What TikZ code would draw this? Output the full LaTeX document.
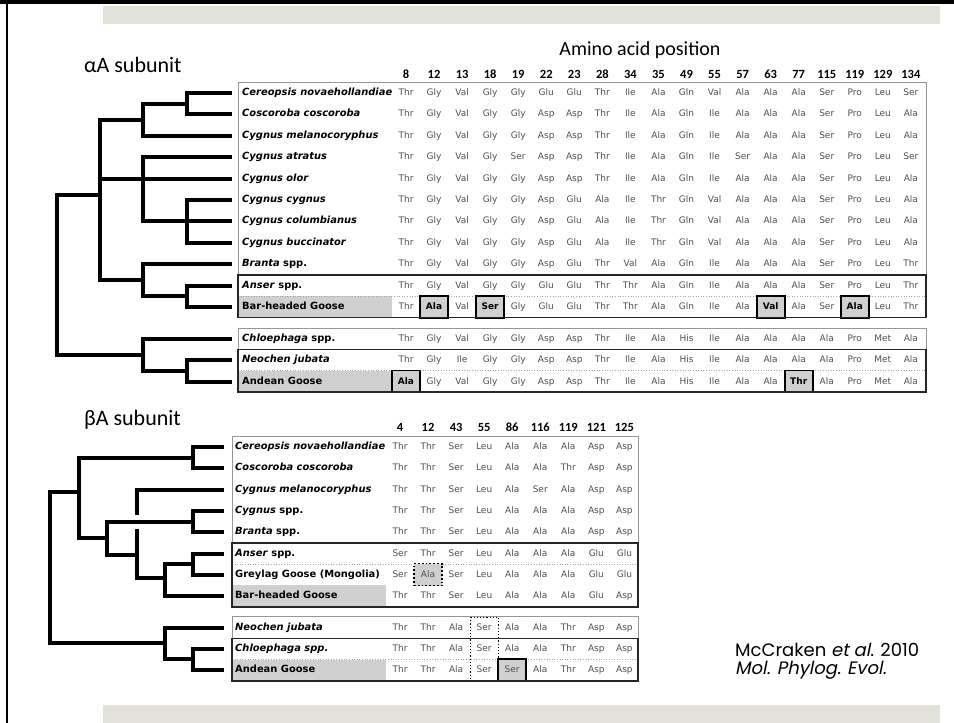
\documentclass[tikz,border=0pt]{standalone}
\usepackage{fontspec}
\usepackage{tikz}
\usetikzlibrary{positioning}

\newfontfamily\seqfont{DejaVu Sans}
\newfontfamily\titlefont{Carlito}
\newfontfamily\citefont{Poppins}[ItalicFont=Poppins,ItalicFeatures={FakeSlant=0.2}]

\definecolor{bandgray}{RGB}{226,226,219}
\definecolor{cellgray}{RGB}{208,208,208}
\definecolor{residue}{RGB}{80,80,80}
\definecolor{frame}{RGB}{150,150,150}

% one row of residues, columns 28.05 apart
\newcommand{\acidrow}[4]{%
  \foreach \a [count=\k from 0] in {#4}
    {\node[aa] (#1\k) at (#2+28.05*\k,#3) {\a};}}

\tikzset{
  branch/.style={line width=4pt,line cap=rect,line join=miter},
  aa/.style={font=\seqfont\fontsize{9}{10}\selectfont,text=residue,inner sep=0pt,text height=7pt,text depth=2pt},
  taxon/.style={font=\seqfont\bfseries\fontsize{9.9}{11}\selectfont,anchor=west,inner sep=0pt,text height=7pt,text depth=2pt},
  site/.style={font=\titlefont\bfseries\fontsize{12.5}{14}\selectfont,anchor=base,inner sep=0pt},
  subunit/.style={font=\titlefont\fontsize{22}{26}\selectfont,anchor=base west,inner sep=0pt},
  hit/.style={draw=black,line width=1.8pt,fill=cellgray,minimum width=28pt,minimum height=22pt,inner sep=0pt,text height=7pt,text depth=2pt,font=\seqfont\bfseries\fontsize{9}{10}\selectfont},
  softhit/.style={hit,font=\seqfont\fontsize{9}{10}\selectfont,text=residue},
  outer/.style={draw=frame,line width=1pt},
  inner/.style={draw=black!85,line width=1.4pt},
  rowsep/.style={draw=black!35,dotted,line width=0.6pt},
  cite/.style={font=\citefont\fontsize{18}{20}\selectfont,anchor=base west,inner sep=0pt}
}

\begin{document}
\begin{tikzpicture}[x=1pt,y=-1pt]
	\useasboundingbox (0,0) rectangle (954,723);

	% page frame and bands
	\fill[bandgray] (103,6) rectangle (940,24);
	\fill[bandgray] (103,705) rectangle (940,723);
	\draw[line width=4pt] (0,2) -- (954,2);
	\draw[line width=2pt] (7,0) -- (7,723);

	% alpha A headers
	\node[subunit] (atitle) at (84,72) {αA subunit};
	\node[font=\titlefont\fontsize{20}{24}\selectfont,anchor=base] (apos) at (640,55) {Amino acid position};
	\foreach \p [count=\k from 0] in {8,12,13,18,19,22,23,28,34,35,49,55,57,63,77,115,119,129,134}
		\node[site] (asite\k) at (406+28.05*\k,78) {\p};

	% alpha A shading and row rules
	\fill[cellgray] (238,296.3) rectangle (392,317.7);
	\fill[cellgray] (238,370.6) rectangle (392,392);
	\draw[rowsep] (238,296.3) -- (926,296.3);
	\draw[rowsep] (238,370.6) -- (926,370.6);

	% alpha A rows
	\node[taxon] (tcer) at (242,93) {\itshape Cereopsis novaehollandiae};
	\acidrow{acer}{406}{93}{Thr,Gly,Val,Gly,Gly,Glu,Glu,Thr,Ile,Ala,Gln,Val,Ala,Ala,Ala,Ser,Pro,Leu,Ser}
	\node[taxon] (tcos) at (242,114.4) {\itshape Coscoroba coscoroba};
	\acidrow{acos}{406}{114.4}{Thr,Gly,Val,Gly,Gly,Asp,Asp,Thr,Ile,Ala,Gln,Ile,Ala,Ala,Ala,Ser,Pro,Leu,Ala}
	\node[taxon] (tmel) at (242,135.8) {\itshape Cygnus melanocoryphus};
	\acidrow{amel}{406}{135.8}{Thr,Gly,Val,Gly,Gly,Asp,Asp,Thr,Ile,Ala,Gln,Ile,Ala,Ala,Ala,Ser,Pro,Leu,Ala}
	\node[taxon] (tatr) at (242,157.2) {\itshape Cygnus atratus};
	\acidrow{aatr}{406}{157.2}{Thr,Gly,Val,Gly,Ser,Asp,Asp,Thr,Ile,Ala,Gln,Ile,Ser,Ala,Ala,Ser,Pro,Leu,Ser}
	\node[taxon] (tolo) at (242,178.6) {\itshape Cygnus olor};
	\acidrow{aolo}{406}{178.6}{Thr,Gly,Val,Gly,Gly,Asp,Asp,Thr,Ile,Ala,Gln,Ile,Ala,Ala,Ala,Ser,Pro,Leu,Ala}
	\node[taxon] (tcyg) at (242,200) {\itshape Cygnus cygnus};
	\acidrow{acyg}{406}{200}{Thr,Gly,Val,Gly,Gly,Asp,Glu,Ala,Ile,Thr,Gln,Val,Ala,Ala,Ala,Ser,Pro,Leu,Ala}
	\node[taxon] (tcol) at (242,221.4) {\itshape Cygnus columbianus};
	\acidrow{acol}{406}{221.4}{Thr,Gly,Val,Gly,Gly,Asp,Glu,Ala,Ile,Thr,Gln,Val,Ala,Ala,Ala,Ser,Pro,Leu,Ala}
	\node[taxon] (tbuc) at (242,242.8) {\itshape Cygnus buccinator};
	\acidrow{abuc}{406}{242.8}{Thr,Gly,Val,Gly,Gly,Asp,Glu,Ala,Ile,Thr,Gln,Val,Ala,Ala,Ala,Ser,Pro,Leu,Ala}
	\node[taxon] (tbra) at (242,264.2) {\textit{Branta} spp.};
	\acidrow{abra}{406}{264.2}{Thr,Gly,Val,Gly,Gly,Asp,Glu,Thr,Val,Ala,Gln,Ile,Ala,Ala,Ala,Ser,Pro,Leu,Thr}
	\node[taxon] (tans) at (242,285.6) {\textit{Anser} spp.};
	\acidrow{aans}{406}{285.6}{Thr,Gly,Val,Gly,Gly,Glu,Glu,Thr,Thr,Ala,Gln,Ile,Ala,Ala,Ala,Ser,Pro,Leu,Thr}
	\node[taxon] (tbar) at (242,307) {Bar-headed Goose};
	\acidrow{abar}{406}{307}{Thr,Ala,Val,Ser,Gly,Glu,Glu,Thr,Thr,Ala,Gln,Ile,Ala,Val,Ala,Ser,Ala,Leu,Thr}
	\node[taxon] (tchl) at (242,339) {\textit{Chloephaga} spp.};
	\acidrow{achl}{406}{339}{Thr,Gly,Val,Gly,Gly,Asp,Asp,Thr,Ile,Ala,His,Ile,Ala,Ala,Ala,Ala,Pro,Met,Ala}
	\node[taxon] (tneo) at (242,360.3) {\itshape Neochen jubata};
	\acidrow{aneo}{406}{360.3}{Thr,Gly,Ile,Gly,Gly,Asp,Asp,Thr,Ile,Ala,His,Ile,Ala,Ala,Ala,Ala,Pro,Met,Ala}
	\node[taxon] (tand) at (242,381.5) {Andean Goose};
	\acidrow{aand}{406}{381.5}{Ala,Gly,Val,Gly,Gly,Asp,Asp,Thr,Ile,Ala,His,Ile,Ala,Ala,Thr,Ala,Pro,Met,Ala}

	% alpha A substitutions
	\node[hit] (hbar1) at (abar1) {Ala};
	\node[hit] (hbar3) at (abar3) {Ser};
	\node[hit] (hbar13) at (abar13) {Val};
	\node[hit] (hbar16) at (abar16) {Ala};
	\node[hit] (hand0) at (aand0) {Ala};
	\node[hit] (hand14) at (aand14) {Thr};

	% alpha A boxes
	\draw[outer] (238,82.5) rectangle (926,317.7);
	\draw[inner] (238,274.9) rectangle (926,317.7);
	\draw[outer] (238,328.3) rectangle (926,392);
	\draw[inner] (238,349.6) rectangle (926,392);

	% beta A headers
	\node[subunit] (btitle) at (84,425) {βA subunit};
	\foreach \p [count=\k from 0] in {4,12,43,55,86,116,119,121,125}
		\node[site] (bsite\k) at (400+28.05*\k,431) {\p};

	% beta A shading and row rules
	\fill[cellgray] (232,585.4) rectangle (386,606.8);
	\fill[cellgray] (232,659.5) rectangle (386,680.8);
	\draw[rowsep] (232,564.2) -- (638,564.2);
	\draw[rowsep] (232,659.5) -- (638,659.5);

	% beta A rows
	\node[taxon] (ucer) at (235,447) {\itshape Cereopsis novaehollandiae};
	\acidrow{bcer}{400}{447}{Thr,Thr,Ser,Leu,Ala,Ala,Ala,Asp,Asp}
	\node[taxon] (ucos) at (235,468.3) {\itshape Coscoroba coscoroba};
	\acidrow{bcos}{400}{468.3}{Thr,Thr,Ser,Leu,Ala,Ala,Thr,Asp,Asp}
	\node[taxon] (umel) at (235,489.6) {\itshape Cygnus melanocoryphus};
	\acidrow{bmel}{400}{489.6}{Thr,Thr,Ser,Leu,Ala,Ser,Ala,Asp,Asp}
	\node[taxon] (uspp) at (235,510.9) {\textit{Cygnus} spp.};
	\acidrow{bspp}{400}{510.9}{Thr,Thr,Ser,Leu,Ala,Ala,Ala,Asp,Asp}
	\node[taxon] (ubra) at (235,532.2) {\textit{Branta} spp.};
	\acidrow{bbra}{400}{532.2}{Thr,Thr,Ser,Leu,Ala,Ala,Ala,Asp,Asp}
	\node[taxon] (uans) at (235,553.5) {\textit{Anser} spp.};
	\acidrow{bans}{400}{553.5}{Ser,Thr,Ser,Leu,Ala,Ala,Ala,Glu,Glu}
	\node[taxon] (ugre) at (235,574.8) {Greylag Goose (Mongolia)};
	\acidrow{bgre}{400}{574.8}{Ser,Ala,Ser,Leu,Ala,Ala,Ala,Glu,Glu}
	\node[taxon] (ubar) at (235,596.1) {Bar-headed Goose};
	\acidrow{bbar}{400}{596.1}{Thr,Thr,Ser,Leu,Ala,Ala,Ala,Glu,Asp}
	\node[taxon] (uneo) at (235,627.5) {\itshape Neochen jubata};
	\acidrow{bneo}{400}{627.5}{Thr,Thr,Ala,Ser,Ala,Ala,Thr,Asp,Asp}
	\node[taxon] (uchl) at (235,648.8) {\itshape Chloephaga spp.};
	\acidrow{bchl}{400}{648.8}{Thr,Thr,Ala,Ser,Ala,Ala,Thr,Asp,Asp}
	\node[taxon] (uand) at (235,670.1) {Andean Goose};
	\acidrow{band}{400}{670.1}{Thr,Thr,Ala,Ser,Ser,Ala,Thr,Asp,Asp}

	% beta A substitutions
	\node[softhit,dotted,line width=1.2pt] (hgre1) at (bgre1) {Ala};
	\node[softhit,line width=1.8pt] (hand4) at (band4) {Ser};
	\draw[dotted,line width=1.2pt] (470.1,617) rectangle (498.2,680.8);

	% beta A boxes
	\draw[outer] (232,436.4) rectangle (638,606.8);
	\draw[inner] (232,542.9) rectangle (638,606.8);
	\draw[outer] (232,616.9) rectangle (638,680.8);
	\draw[inner] (232,638.2) rectangle (638,680.8);

	% alpha A tree
	\path (230,93) coordinate (lcer);
	\path (230,114.4) coordinate (lcos);
	\path (230,135.8) coordinate (lmel);
	\path (230,157.2) coordinate (latr);
	\path (230,178.6) coordinate (lolo);
	\path (230,200) coordinate (lcyg);
	\path (230,221.4) coordinate (lcol);
	\path (230,242.8) coordinate (lbuc);
	\path (230,264.2) coordinate (lbra);
	\path (230,285.6) coordinate (lans);
	\path (230,307) coordinate (lbar);
	\path (230,339) coordinate (lchl);
	\path (230,360.3) coordinate (lneo);
	\path (230,381.5) coordinate (land);
	\path (187,103.7) coordinate (ncc);
	\path (143,119.7) coordinate (nccm);
	\path (187,221.4) coordinate (ncyg);
	\path (143,178.6) coordinate (nswan);
	\path (187,296.3) coordinate (nans);
	\path (143,280.1) coordinate (ngoose);
	\path (100,195) coordinate (nin);
	\path (187,370.9) coordinate (nna);
	\path (143,355) coordinate (nsouth);
	\path (57,275) coordinate (aroot);

	\draw[branch] (lcer) -| (ncc) |- (lcos);
	\draw[branch] (ncc) -| (nccm) |- (lmel);
	\draw[branch] (lcyg) -| (ncyg) |- (lbuc);
	\draw[branch] (ncyg) -- (lcol);
	\draw[branch] (latr) -| (nswan) |- (ncyg);
	\draw[branch] (lans) -| (nans) |- (lbar);
	\draw[branch] (lbra) -| (ngoose) |- (nans);
	\draw[branch] (nccm) -| (nin) |- (ngoose);
	\draw[branch] (nin |- lolo) -- (lolo);
	\draw[branch] (lneo) -| (nna) |- (land);
	\draw[branch] (lchl) -| (nsouth) |- (nna);
	\draw[branch] (nin) -| (aroot) |- (nsouth);

	% beta A tree
	\path (222,447) coordinate (mcer);
	\path (222,468.3) coordinate (mcos);
	\path (222,489.6) coordinate (mmel);
	\path (222,510.9) coordinate (mspp);
	\path (222,532.2) coordinate (mbra);
	\path (222,553.5) coordinate (mans);
	\path (222,574.8) coordinate (mgre);
	\path (222,596.1) coordinate (mbar);
	\path (222,627.5) coordinate (mneo);
	\path (222,648.8) coordinate (mchl);
	\path (222,670.1) coordinate (mand);
	\path (193,457.6) coordinate (pcc);
	\path (193,521.5) coordinate (psb);
	\path (193,564.2) coordinate (pag);
	\path (165,578) coordinate (pagb);
	\path (137,555) coordinate (pmel);
	\path (137,512.5) coordinate (pgaptop);
	\path (137,530.5) coordinate (pgapbot);
	\path (107,538) coordinate (pmid);
	\path (79,492) coordinate (pin);
	\path (193,659.4) coordinate (pca);
	\path (165,643) coordinate (psouth);
	\path (50,567) coordinate (broot);

	\draw[branch] (mcer) -| (pcc) |- (mcos);
	\draw[branch] (mspp) -| (psb) |- (mbra);
	\draw[branch] (mans) -| (pag) |- (mgre);
	\draw[branch] (pag) -| (pagb) |- (mbar);
	\draw[branch] (mmel) -| (pgaptop);
	\draw[branch] (pgapbot) |- (pagb);
	\draw[branch] (psb) -| (pmid) |- (pmel);
	\draw[branch] (pcc) -| (pin) |- (pmid);
	\draw[branch] (mchl) -| (pca) |- (mand);
	\draw[branch] (mneo) -| (psouth) |- (pca);
	\draw[branch] (pin) -| (broot) |- (psouth);

	% reference
	\node[cite] (cite1) at (735,656) {McCraken \textit{et al}. 2010};
	\node[cite] (cite2) at ([yshift=-18pt]cite1.base west) {\textit{Mol. Phylog. Evol.}};
\end{tikzpicture}
\end{document}
